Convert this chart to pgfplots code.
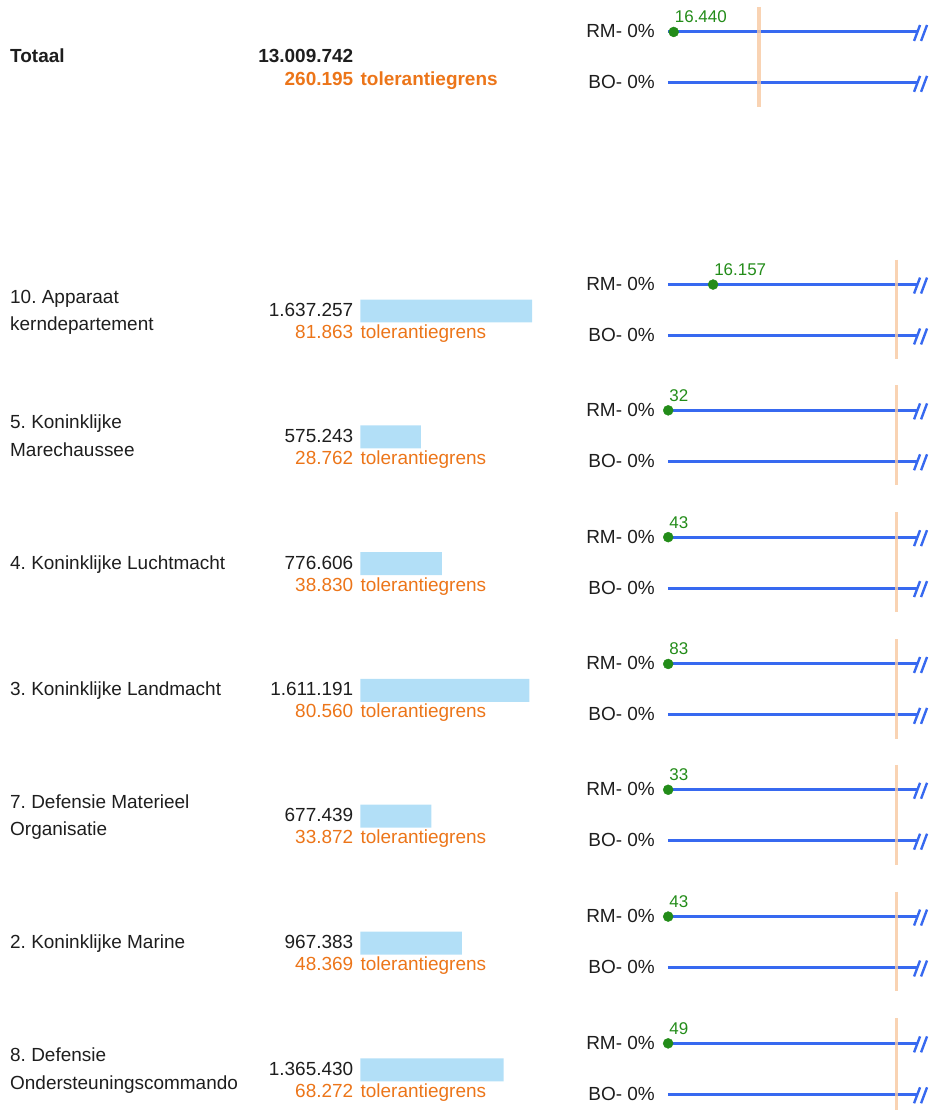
\documentclass[border=0pt]{standalone}
\usepackage{pgfplots}
\pgfplotsset{compat=1.18}
\usepackage{pgfplotstable}
\usepackage{fontspec}
\setmainfont{Liberation Sans}
\frenchspacing
\definecolor{lineblue}{RGB}{55,105,240}
\definecolor{dotgreen}{RGB}{35,140,25}
\definecolor{tolorange}{RGB}{236,117,25}
\definecolor{peach}{RGB}{248,200,160}
\definecolor{barblue}{RGB}{178,223,247}
\definecolor{txt}{RGB}{30,30,30}
\newcommand\mainf{\fontsize{19}{22}\selectfont}
\newcommand\greenf{\fontsize{17}{20}\selectfont}

% right panel: RM line y (px), value, tolerance, x of tolerance line, label
\pgfplotstableread{
y v tol tx lab
32 16440 260195 760 16.440
285 16157 81863 898 16.157
411 32 28762 898 32
538 43 38830 898 43
665 83 80560 898 83
791 33 33872 898 33
918 43 48369 898 43
1045 49 68272 898 49
}\rmdata

\tikzset{lbl/.style={font=\mainf, text=txt, inner sep=0pt},
  tolt/.style={font=\mainf, text=tolorange, inner sep=0pt},
  tl/.style={peach, line width=3.5pt, opacity=0.8}}

\begin{document}
\begin{tikzpicture}
\begin{axis}[at={(0pt,0pt)}, anchor=south west, scale only axis,
  width=933pt, height=1112pt, xmin=0, xmax=933, ymin=0, ymax=1112,
  y dir=reverse, hide axis, clip=false]
\addplot[draw=none, forget plot] coordinates {(0,0) (933,1112)};

% RM / BO lines
\pgfplotsinvokeforeach{32,83,285,336,411,462,538,589,665,716,791,842,918,969,1045,1096}{
  \addplot[lineblue, line width=3pt] table[row sep=\\, x=x, y expr=\thisrow{d}+#1] {
x d \\ 669 0 \\ 918.5 0 \\
};
  \addplot[lineblue, line width=2.4pt] table[row sep=\\, x=x, y expr=\thisrow{d}+#1] {
x d \\ 915.5 9 \\ 921.5 -7 \\
};
  \addplot[lineblue, line width=2.4pt] table[row sep=\\, x=x, y expr=\thisrow{d}+#1] {
x d \\ 922.5 9 \\ 928.5 -7 \\
};
}

% tolerance lines
\addplot[tl] coordinates {(760,7) (760,107)};
\addplot[tl] coordinates {(898,260) (898,360)};
\addplot[tl] coordinates {(898,386) (898,486)};
\addplot[tl] coordinates {(898,513) (898,613)};
\addplot[tl] coordinates {(898,640) (898,740)};
\addplot[tl] coordinates {(898,766) (898,866)};
\addplot[tl] coordinates {(898,893) (898,993)};
\addplot[tl] coordinates {(898,1020) (898,1112)};

% RM values (dots)
\addplot[only marks, mark=*, mark size=5pt, color=dotgreen,
  point meta=explicit symbolic, nodes near coords,
  every node near coord/.append style={anchor=base west, inner sep=0pt,
    xshift=1pt, yshift=9pt, font=\greenf, text=dotgreen}]
  table[x expr={669+\thisrow{v}/\thisrow{tol}*(\thisrow{tx}-669)}, y=y, meta=lab] {\rmdata};

% RM / BO labels
\pgfplotsinvokeforeach{32,285,411,538,665,791,918,1045}{
  \node[lbl, anchor=base east] at (axis cs:656,#1+6) {RM- 0\%};
  \node[lbl, anchor=base east] at (axis cs:656,#1+57) {BO- 0\%};
}

% Totaal
\node[lbl, anchor=base west, font=\mainf\bfseries] at (axis cs:10,63) {Totaal};
\node[lbl, anchor=base east, font=\mainf\bfseries] at (axis cs:354,63) {13.009.742};
\node[tolt, anchor=base east, font=\mainf\bfseries] at (axis cs:354,86) {260.195};
\node[tolt, anchor=base west, font=\mainf\bfseries] at (axis cs:361,86) {tolerantiegrens};

% row 1 (RM 285)
\node[lbl, anchor=base west] at (axis cs:10,303.5) {10. Apparaat};
\node[lbl, anchor=base west] at (axis cs:10,331) {kerndepartement};
\node[lbl, anchor=base east] at (axis cs:354,317) {1.637.257};
\node[tolt, anchor=base east] at (axis cs:354,339) {81.863};
\node[tolt, anchor=base west] at (axis cs:361,339) {tolerantiegrens};
% row 2 (RM 411)
\node[lbl, anchor=base west] at (axis cs:10,429.5) {5. Koninklijke};
\node[lbl, anchor=base west] at (axis cs:10,457) {Marechaussee};
\node[lbl, anchor=base east] at (axis cs:354,443) {575.243};
\node[tolt, anchor=base east] at (axis cs:354,465) {28.762};
\node[tolt, anchor=base west] at (axis cs:361,465) {tolerantiegrens};
% row 3 (RM 538)
\node[lbl, anchor=base west] at (axis cs:10,570) {4. Koninklijke Luchtmacht};
\node[lbl, anchor=base east] at (axis cs:354,570) {776.606};
\node[tolt, anchor=base east] at (axis cs:354,592) {38.830};
\node[tolt, anchor=base west] at (axis cs:361,592) {tolerantiegrens};
% row 4 (RM 665)
\node[lbl, anchor=base west] at (axis cs:10,697) {3. Koninklijke Landmacht};
\node[lbl, anchor=base east] at (axis cs:354,697) {1.611.191};
\node[tolt, anchor=base east] at (axis cs:354,719) {80.560};
\node[tolt, anchor=base west] at (axis cs:361,719) {tolerantiegrens};
% row 5 (RM 791)
\node[lbl, anchor=base west] at (axis cs:10,809.5) {7. Defensie Materieel};
\node[lbl, anchor=base west] at (axis cs:10,837) {Organisatie};
\node[lbl, anchor=base east] at (axis cs:354,823) {677.439};
\node[tolt, anchor=base east] at (axis cs:354,845) {33.872};
\node[tolt, anchor=base west] at (axis cs:361,845) {tolerantiegrens};
% row 6 (RM 918)
\node[lbl, anchor=base west] at (axis cs:10,950) {2. Koninklijke Marine};
\node[lbl, anchor=base east] at (axis cs:354,950) {967.383};
\node[tolt, anchor=base east] at (axis cs:354,972) {48.369};
\node[tolt, anchor=base west] at (axis cs:361,972) {tolerantiegrens};
% row 7 (RM 1045)
\node[lbl, anchor=base west] at (axis cs:10,1063.5) {8. Defensie};
\node[lbl, anchor=base west] at (axis cs:10,1091) {Ondersteuningscommando};
\node[lbl, anchor=base east] at (axis cs:354,1077) {1.365.430};
\node[tolt, anchor=base east] at (axis cs:354,1099) {68.272};
\node[tolt, anchor=base west] at (axis cs:361,1099) {tolerantiegrens};
\end{axis}

% bars: real values on x, same pixel rows on y
\begin{axis}[at={(361pt,0pt)}, anchor=south west, scale only axis,
  width=210.1pt, height=1112pt, xmin=0, xmax=2000000, ymin=0, ymax=1112,
  y dir=reverse, hide axis, clip=false]
\addplot[xbar, bar width=23pt, fill=barblue, draw=none] coordinates {
  (1637257,311.5) (575243,437.5) (776606,564.5) (1611191,691.5)
  (677439,817.5) (967383,944.5) (1365430,1071.5)};
\end{axis}
\end{tikzpicture}
\end{document}
